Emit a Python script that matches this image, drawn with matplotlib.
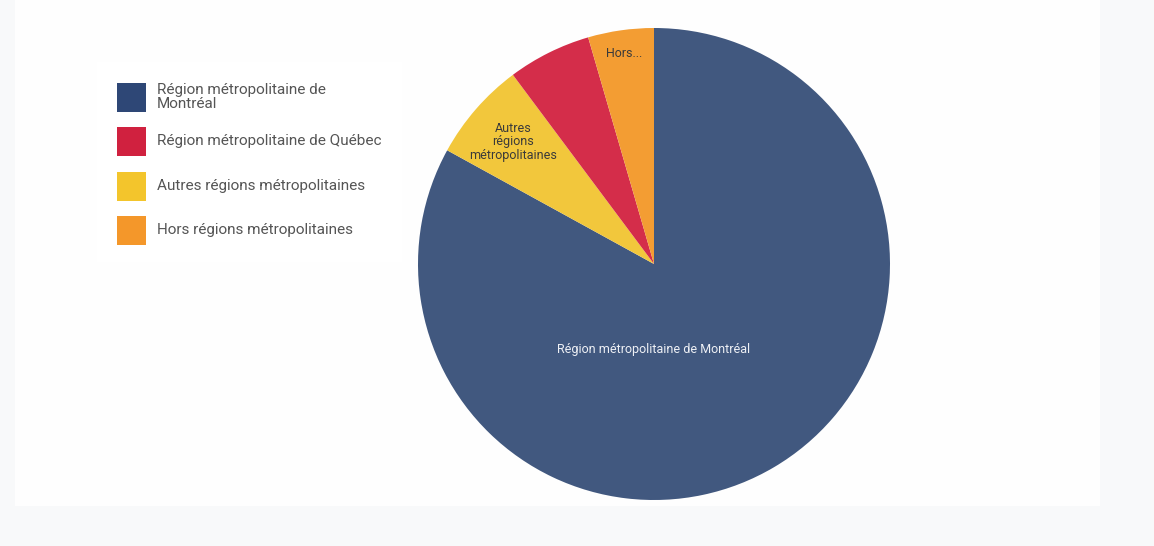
import numpy as np
import matplotlib.pyplot as plt
from matplotlib.patches import Rectangle

# ============================================================
# DATA
# ============================================================

# slice order as drawn (clockwise from 12 o'clock)
slice_names = [
    "Région métropolitaine de Montréal",
    "Autres régions métropolitaines",
    "Région métropolitaine de Québec",
    "Hors régions métropolitaines",
]
slice_values = [83.0, 6.8, 5.7, 4.5]
slice_colors = ["#41587F", "#F2C73C", "#D42D4A", "#F39D33"]
slice_labels = [
    "Région métropolitaine de Montréal",
    "Autres\nrégions\nmétropolitaines",
    "",
    "Hors...",
]

# legend order
legend_names = [
    "Région métropolitaine de\nMontréal",
    "Région métropolitaine de Québec",
    "Autres régions métropolitaines",
    "Hors régions métropolitaines",
]
legend_colors = ["#2E4776", "#D0213F", "#F3C52C", "#F4972A"]

# ============================================================
# FIGURE
# ============================================================

W, H = 1154, 546
plt.rcParams['font.family'] = ['Roboto', 'DejaVu Sans']

fig = plt.figure(figsize=(W / 100, H / 100), dpi=100)
fig.patch.set_facecolor("#F8F9FA")

ax = fig.add_axes([0, 0, 1, 1])

# white chart area
ax.add_patch(Rectangle((15, H - 506), 1085, 506, facecolor="#FEFEFE",
                       edgecolor="none", zorder=0))
# legend box
ax.add_patch(Rectangle((97, H - 262), 305, 200, facecolor="#FFFFFF",
                       edgecolor="none", zorder=1))

cx, cy, r = 654, H - 264, 236

wedges, _ = ax.pie(
    slice_values,
    colors=slice_colors,
    startangle=90,
    counterclock=False,
    center=(cx, cy),
    radius=r,
    wedgeprops=dict(linewidth=0),
    frame=True,
)
ax.set_xlim(0, W)
ax.set_ylim(0, H)
ax.set_aspect("equal")
ax.axis("off")

# data labels
for w, lab, dist in zip(wedges, slice_labels, [0, 0.79, 0, 0.9]):
    if not lab or dist == 0:
        continue
    mid = np.deg2rad((w.theta1 + w.theta2) / 2)
    ax.text(cx + dist * r * np.cos(mid), cy + dist * r * np.sin(mid), lab,
            ha="center", va="center", fontsize=9.0, color="#3A3A3A",
            linespacing=1.05, zorder=5)

ax.text(cx, H - 350, slice_labels[0], ha="center", va="center",
        fontsize=9.0, color="#EEF0F5", zorder=5)

# ============================================================
# LEGEND
# ============================================================

leg_top = [83, 127, 172, 216]
for name, col, top in zip(legend_names, legend_colors, leg_top):
    ax.add_patch(Rectangle((117, H - top - 29), 29, 29, facecolor=col,
                           edgecolor="none", zorder=3))
    ax.text(157, H - top - 14, name, ha="left", va="center",
            fontsize=11.0, color="#555555", linespacing=0.95, zorder=3)

plt.savefig("out.png", dpi=100, facecolor=fig.get_facecolor())
